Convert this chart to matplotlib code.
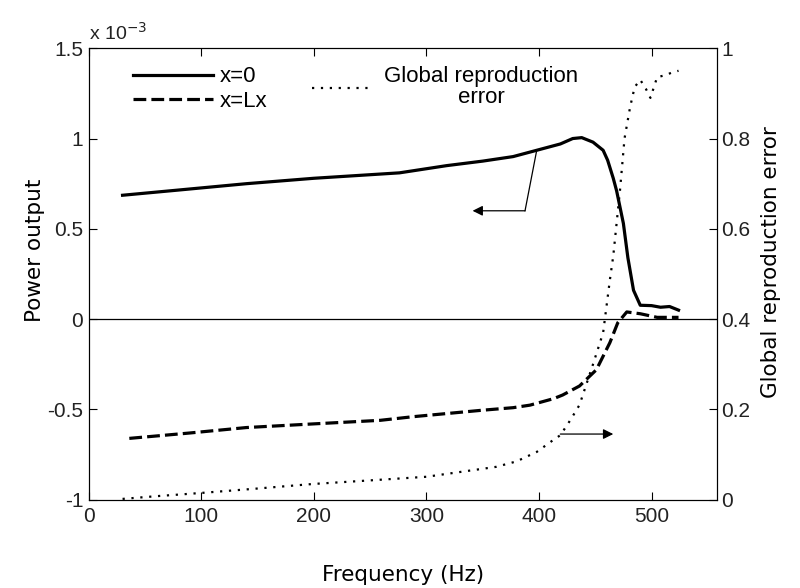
import matplotlib
matplotlib.use('Agg')
import matplotlib.pyplot as plt
from matplotlib.ticker import FormatStrFormatter
from matplotlib.lines import Line2D

# power output (units of 1e-3) at x=0
freq_x0 = [30, 80, 140, 200, 276, 318, 350, 377, 398, 419, 430, 438, 448, 457, 461,
           466, 469, 475, 479, 484, 490, 500, 508, 516, 524]
power_x0 = [0.686, 0.715, 0.75, 0.78, 0.81, 0.85, 0.875, 0.90, 0.935, 0.97, 1.0, 1.005,
            0.98, 0.935, 0.88, 0.78, 0.71, 0.53, 0.34, 0.16, 0.077, 0.075, 0.066, 0.07, 0.05]

# power output (units of 1e-3) at x=Lx
freq_xl = [36, 90, 140, 199, 259, 288, 348, 377, 392, 413, 421, 436, 451, 463, 470,
           478, 490, 505, 524]
power_xl = [-0.66, -0.63, -0.60, -0.58, -0.56, -0.54, -0.505, -0.49, -0.476, -0.44,
            -0.42, -0.37, -0.28, -0.13, -0.02, 0.04, 0.03, 0.01, 0.01]

# global reproduction error (right axis)
freq_err = [30, 60, 99, 150, 199, 250, 300, 348, 362, 380, 398, 413, 419, 428, 436,
            448, 457, 463, 466, 472, 476, 481, 485, 490, 495, 499, 505, 512, 519, 524]
glob_err = [0.002, 0.008, 0.015, 0.025, 0.035, 0.043, 0.051, 0.068, 0.073, 0.085,
            0.106, 0.133, 0.143, 0.177, 0.21, 0.30, 0.37, 0.487, 0.54, 0.686, 0.80,
            0.87, 0.914, 0.93, 0.91, 0.89, 0.936, 0.94, 0.947, 0.95]

# arrow annotations (left axis coords)
arrow1_start = (398, 0.935)
arrow1_corner = (387.6, 0.60)
arrow1_tip = (341, 0.60)
arrow2_start = (419, -0.636)
arrow2_tip = (466, -0.636)

tick_font = 'Liberation Sans'
label_font = 'DejaVu Sans'
dash_style = (4, 1.6)
dot_style = (0, (1, 3))

fig = plt.figure(figsize=(8, 5.88), dpi=100)
ax = fig.add_axes([0.111, 0.150, 0.785, 0.768])
ax2 = ax.twinx()

ax.plot(freq_x0, power_x0, color='black', lw=2.3, solid_joinstyle='round')
ax.plot(freq_xl, power_xl, color='black', lw=2.3, dashes=dash_style)
ax.axhline(0, color='black', lw=0.9)
ax2.plot(freq_err, glob_err, color='black', lw=1.6, linestyle=dot_style)

ax.set_xlim(0, 558)
ax.set_ylim(-1, 1.5)
ax2.set_ylim(0, 1)
ax.set_xticks([0, 100, 200, 300, 400, 500])
ax.set_yticks([-1, -0.5, 0, 0.5, 1, 1.5])
ax2.set_yticks([0, 0.2, 0.4, 0.6, 0.8, 1])
ax.yaxis.set_major_formatter(FormatStrFormatter('%g'))
ax2.yaxis.set_major_formatter(FormatStrFormatter('%g'))

ax.tick_params(axis='x', direction='in', top=True, length=6, labelsize=15, pad=5)
ax.tick_params(axis='y', direction='in', length=6, labelsize=15, pad=4)
ax2.tick_params(axis='y', direction='in', length=6, labelsize=15, pad=3)
for t in ax.get_xticklabels() + ax.get_yticklabels() + ax2.get_yticklabels():
    t.set_fontfamily(tick_font)
    t.set_color('#222222')

ax.set_xlabel('Frequency (Hz)', fontsize=15.5, family=label_font, labelpad=28)
ax.set_ylabel('Power output', fontsize=15.5, family=label_font)
ax2.set_ylabel('Global reproduction error', fontsize=15.5, family=label_font)
ax.yaxis.set_label_coords(-0.07, 0.553)
ax2.yaxis.set_label_coords(1.07, 0.527)

ax.text(0.0, 1.01, r'x 10$^{-3}$', transform=ax.transAxes, fontsize=14,
        family=tick_font, color='#222222', ha='left', va='bottom')

# bent arrow pointing to left axis
ax.plot([arrow1_start[0], arrow1_corner[0]], [arrow1_start[1], arrow1_corner[1]],
        color='black', lw=0.9)
ax.annotate('', xy=arrow1_tip, xytext=arrow1_corner,
            arrowprops=dict(arrowstyle='-|>', color='black', lw=0.9,
                            mutation_scale=15, shrinkA=0, shrinkB=0))
# arrow pointing to right axis
ax.annotate('', xy=arrow2_tip, xytext=arrow2_start,
            arrowprops=dict(arrowstyle='-|>', color='black', lw=0.9,
                            mutation_scale=15, shrinkA=0, shrinkB=0))

leg_font = {'family': tick_font, 'size': 16}
leg1 = ax2.legend([Line2D([], [], color='black', lw=2.3),
                   Line2D([], [], color='black', lw=2.3, dashes=dash_style)],
                  ['x=0', 'x=Lx'], frameon=False, loc='upper left',
                  bbox_to_anchor=(0.07, 0.96), borderpad=0, borderaxespad=0,
                  prop=leg_font, handlelength=3.6, handletextpad=0.3,
                  labelspacing=0.15)
ax2.add_artist(leg1)
leg2 = ax2.legend([Line2D([], [], color='black', lw=1.6, linestyle=dot_style)],
                  ['Global reproduction\nerror'], frameon=False, loc='upper left',
                  bbox_to_anchor=(0.355, 0.96), borderpad=0, borderaxespad=0,
                  prop=leg_font, handlelength=2.8, handletextpad=0.45)
for t in leg2.get_texts():
    t.set_multialignment('center')
    t.set_linespacing(1.0)

fig.savefig('out.png', dpi=100)
